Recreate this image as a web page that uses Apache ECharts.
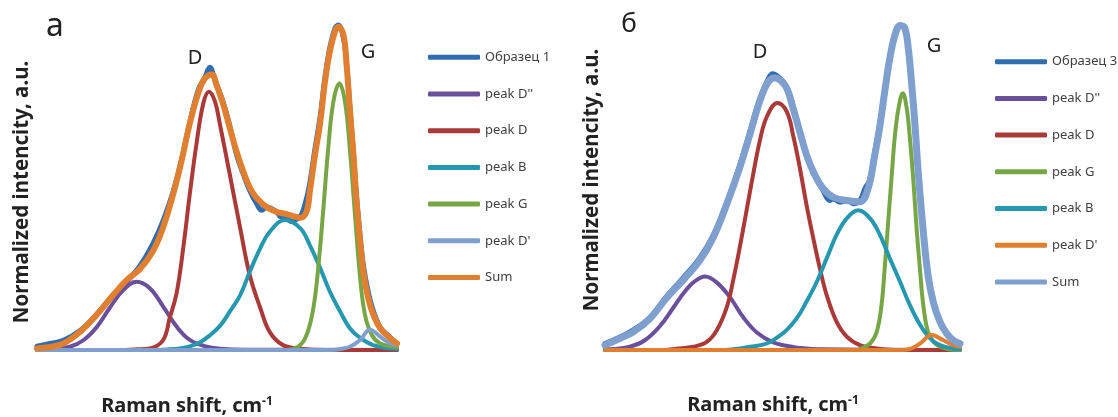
<!DOCTYPE html>
<html>
<head>
<meta charset="utf-8">
<script src="https://cdn.jsdelivr.net/npm/echarts@6/dist/echarts.min.js"></script>
<style>
  html, body { margin: 0; padding: 0; background: #fff; }
  #chart { width: 1118px; height: 417px; }
</style>
</head>
<body>
<div id="chart"></div>
<script>
// ---- данные: Raman shift (cm-1) / нормированная интенсивность ----
// панель а
const sampleA = [[900,0.012],[932,0.02],[966,0.03],[1008,0.06],[1049,0.11],[1091,0.17],[1124,0.21],[1158,0.26],[1191,0.33],[1216,0.4],[1241,0.49],[1262,0.59],[1282,0.7],[1303,0.8],[1320,0.84],[1332,0.87],[1345,0.83],[1366,0.76],[1382,0.69],[1399,0.6],[1416,0.54],[1432,0.49],[1449,0.45],[1462,0.43],[1474,0.44],[1499,0.425],[1510,0.41],[1524,0.41],[1535,0.395],[1545,0.4],[1558,0.41],[1568,0.44],[1580,0.5],[1595,0.62],[1608,0.72],[1620,0.84],[1632,0.93],[1645,0.99],[1653,1.0],[1666,0.96],[1674,0.88],[1682,0.75],[1691,0.61],[1699,0.47],[1708,0.35],[1716,0.26],[1728,0.18],[1741,0.12],[1758,0.07],[1782,0.04],[1800,0.02]];
const peakD2A = [[900,0],[932,0.002],[982,0.01],[1016,0.03],[1049,0.07],[1082,0.13],[1116,0.185],[1149,0.21],[1182,0.19],[1216,0.133],[1249,0.072],[1282,0.031],[1324,0.01],[1358,0.004],[1420,0.001],[1800,0]];
const peakDA = [[900,0],[1100,0],[1150,0.002],[1182,0.005],[1215,0.03],[1232,0.1],[1249,0.175],[1266,0.318],[1282,0.48],[1299,0.637],[1316,0.76],[1330,0.795],[1345,0.764],[1358,0.69],[1382,0.54],[1408,0.375],[1432,0.23],[1458,0.13],[1482,0.055],[1515,0.015],[1558,0.004],[1620,0],[1800,0]];
const peakBA = [[900,0],[1180,0],[1230,0.002],[1258,0.005],[1282,0.011],[1308,0.024],[1332,0.045],[1358,0.075],[1382,0.118],[1408,0.169],[1432,0.241],[1458,0.313],[1482,0.364],[1520,0.4],[1558,0.375],[1582,0.323],[1608,0.252],[1632,0.18],[1658,0.118],[1682,0.067],[1708,0.037],[1740,0.015],[1782,0.005],[1800,0.003]];
const peakGA = [[900,0],[1520,0],[1553,0.01],[1574,0.046],[1591,0.13],[1603,0.252],[1616,0.436],[1628,0.62],[1641,0.764],[1656,0.82],[1670,0.764],[1682,0.62],[1695,0.415],[1708,0.22],[1720,0.108],[1737,0.046],[1758,0.02],[1790,0.01],[1800,0.008]];
const peakD1A = [[900,0],[1640,0],[1658,0.003],[1682,0.01],[1708,0.031],[1732,0.062],[1758,0.041],[1782,0.02],[1800,0.015]];
const sumA = [[900,0.005],[932,0.009],[966,0.02],[1008,0.056],[1049,0.108],[1091,0.17],[1124,0.215],[1158,0.25],[1191,0.307],[1216,0.38],[1241,0.482],[1262,0.585],[1282,0.697],[1303,0.79],[1320,0.836],[1337,0.848],[1349,0.815],[1366,0.754],[1382,0.683],[1399,0.61],[1416,0.548],[1432,0.5],[1449,0.468],[1474,0.44],[1499,0.425],[1524,0.418],[1545,0.41],[1558,0.407],[1574,0.426],[1582,0.487],[1595,0.6],[1608,0.7],[1620,0.826],[1632,0.918],[1645,0.98],[1653,0.995],[1666,0.97],[1674,0.877],[1682,0.745],[1691,0.6],[1699,0.456],[1708,0.333],[1716,0.24],[1728,0.16],[1741,0.108],[1758,0.067],[1782,0.037],[1800,0.02]];

// панель б
const sampleB = [[900,0.02],[938,0.04],[972,0.062],[1014,0.1],[1056,0.165],[1098,0.222],[1141,0.285],[1175,0.355],[1209,0.455],[1242,0.57],[1268,0.675],[1293,0.775],[1314,0.835],[1325,0.85],[1340,0.84],[1361,0.81],[1377,0.75],[1394,0.675],[1411,0.6],[1428,0.545],[1453,0.49],[1470,0.46],[1479,0.465],[1495,0.455],[1513,0.46],[1530,0.45],[1546,0.46],[1560,0.5],[1570,0.52],[1584,0.61],[1597,0.7],[1609,0.8],[1622,0.9],[1635,0.975],[1648,1.0],[1660,0.995],[1669,0.93],[1677,0.83],[1686,0.7],[1694,0.56],[1707,0.37],[1719,0.235],[1732,0.15],[1749,0.09],[1766,0.05],[1783,0.03],[1800,0.02]];
const peakD2B = [[900,0.002],[925,0.003],[963,0.01],[1001,0.03],[1039,0.073],[1077,0.137],[1098,0.173],[1124,0.208],[1154,0.226],[1183,0.208],[1217,0.162],[1251,0.1],[1285,0.054],[1327,0.023],[1369,0.011],[1394,0.006],[1450,0.002],[1800,0]];
const peakDB = [[900,0],[1050,0],[1082,0.004],[1124,0.01],[1158,0.025],[1183,0.06],[1209,0.133],[1225,0.215],[1242,0.318],[1259,0.43],[1276,0.543],[1293,0.646],[1310,0.717],[1337,0.76],[1361,0.733],[1377,0.66],[1394,0.56],[1411,0.446],[1428,0.344],[1445,0.25],[1462,0.169],[1487,0.087],[1513,0.041],[1546,0.015],[1589,0.005],[1650,0],[1800,0]];
const peakGB = [[900,0],[1540,0],[1546,0.003],[1572,0.02],[1589,0.056],[1601,0.138],[1609,0.25],[1618,0.395],[1627,0.538],[1635,0.66],[1644,0.743],[1655,0.79],[1665,0.743],[1673,0.651],[1682,0.518],[1690,0.374],[1699,0.241],[1707,0.138],[1719,0.056],[1737,0.02],[1766,0.004],[1800,0]];
const peakBB = [[900,0],[1200,0],[1242,0.005],[1268,0.01],[1310,0.02],[1344,0.045],[1361,0.062],[1386,0.097],[1411,0.149],[1437,0.21],[1462,0.282],[1487,0.354],[1513,0.405],[1542,0.43],[1572,0.405],[1597,0.354],[1622,0.282],[1648,0.21],[1673,0.138],[1699,0.077],[1724,0.036],[1749,0.015],[1783,0.004],[1800,0.002]];
const peakD1B = [[900,0],[1650,0],[1673,0.003],[1699,0.02],[1728,0.046],[1758,0.03],[1783,0.015],[1800,0.01]];
const sumB = [[900,0.015],[938,0.036],[972,0.056],[1014,0.097],[1056,0.16],[1098,0.215],[1141,0.277],[1175,0.348],[1209,0.45],[1242,0.563],[1268,0.666],[1293,0.768],[1314,0.825],[1331,0.838],[1344,0.83],[1361,0.805],[1377,0.743],[1394,0.671],[1411,0.6],[1428,0.549],[1453,0.497],[1479,0.47],[1513,0.46],[1546,0.456],[1567,0.497],[1584,0.6],[1597,0.69],[1609,0.794],[1622,0.897],[1635,0.968],[1648,0.998],[1660,0.99],[1669,0.927],[1677,0.825],[1686,0.69],[1694,0.549],[1707,0.364],[1719,0.23],[1732,0.149],[1749,0.087],[1766,0.051],[1783,0.03],[1800,0.02]];

const namesA = ["Образец 1", "peak D''", "peak D", "peak B", "peak G", "peak D'", "Sum"];
const namesB = ["Образец 3", "peak D''", "peak D", "peak G", "peak B", "peak D'", "Sum"];

// цвета
const C = {
  sample: "#2f6db0",
  d2: "#6a4f9c",
  d: "#aa3a38",
  b: "#2597ae",
  g: "#77a646",
  lightBlue: "#7fa0cf",
  orange: "#e07f30",
};

const FONT = '"Noto Sans", sans-serif';
const SUFFIX = " "; // панель б: отдельные имена для легенды

function line(name, data, color, width, idx) {
  return {
    name: name,
    type: "line",
    xAxisIndex: idx,
    yAxisIndex: idx,
    data: data,
    smooth: 0.4,
    showSymbol: false,
    clip: false,
    color: color,
    lineStyle: { color: color, width: width, cap: "round", join: "round" },
  };
}

function axisX(idx) {
  return {
    gridIndex: idx, type: "value", min: 900, max: 1800,
    axisLine: { show: false }, axisTick: { show: false },
    axisLabel: { show: false }, splitLine: { show: false },
  };
}
function axisY(idx) {
  return {
    gridIndex: idx, type: "value", min: 0, max: 1,
    axisLine: { show: false }, axisTick: { show: false },
    axisLabel: { show: false }, splitLine: { show: false },
  };
}

function legend(names, left, top) {
  return {
    orient: "vertical",
    left: left,
    top: top,
    padding: 0,
    data: names,
    icon: "roundRect",
    itemWidth: 52,
    itemHeight: 5,
    itemGap: 20.7,
    selectedMode: false,
    formatter: (n) => n.trim(),
    textStyle: { fontFamily: FONT, fontSize: 13, color: "#404040", lineHeight: 16 },
  };
}

function txt(x, y, text, size, weight, rot) {
  return {
    type: "text",
    x: x,
    y: y,
    rotation: rot || 0,
    style: {
      text: text,
      fontFamily: FONT,
      fontSize: size,
      fontWeight: weight,
      fill: "#222",
      align: "center",
      verticalAlign: "middle",
      rich: {
        sup: { fontFamily: FONT, fontSize: 12, fontWeight: "bold", fill: "#222", verticalAlign: "top" },
      },
    },
  };
}

const namesBKeys = namesB.map((n) => n + SUFFIX);

const option = {
  animation: false,
  backgroundColor: "#fff",
  grid: [
    { left: 37, top: 25, width: 360, height: 325 },
    { left: 605, top: 25, width: 355, height: 325 },
  ],
  xAxis: [axisX(0), axisX(1)],
  yAxis: [axisY(0), axisY(1)],
  legend: [legend(namesA, 428, 49.3), legend(namesBKeys, 995, 53.7)],
  graphic: [
    txt(55, 27, "а", 32, "normal"),
    txt(629, 25, "б", 26, "normal"),
    txt(195, 58, "D", 20, "normal"),
    txt(368, 52, "G", 20, "normal"),
    txt(760, 52, "D", 20, "normal"),
    txt(934, 46, "G", 20, "normal"),
    txt(22, 192, "Normalized intencity, a.u.", 20.5, "bold", Math.PI / 2),
    txt(592, 180, "Normalized intencity, a.u.", 20.5, "bold", Math.PI / 2),
    txt(187, 406, "Raman shift, cm{sup|-1}", 20, "bold"),
    txt(773, 405, "Raman shift, cm{sup|-1}", 20, "bold"),
  ],
  series: [
    // панель а
    line(namesA[0], sampleA, C.sample, 5, 0),
    line(namesA[1], peakD2A, C.d2, 4, 0),
    line(namesA[2], peakDA, C.d, 4, 0),
    line(namesA[3], peakBA, C.b, 4, 0),
    line(namesA[4], peakGA, C.g, 4, 0),
    line(namesA[5], peakD1A, C.lightBlue, 4, 0),
    line(namesA[6], sumA, C.orange, 6, 0),
    // панель б
    line(namesBKeys[0], sampleB, C.sample, 5, 1),
    line(namesBKeys[1], peakD2B, C.d2, 4, 1),
    line(namesBKeys[2], peakDB, C.d, 4, 1),
    line(namesBKeys[3], peakGB, C.g, 4, 1),
    line(namesBKeys[4], peakBB, C.b, 4, 1),
    line(namesBKeys[5], peakD1B, C.orange, 4, 1),
    line(namesBKeys[6], sumB, C.lightBlue, 7, 1),
  ],
};

const chart = echarts.init(document.getElementById("chart"));
chart.setOption(option);
</script>
</body>
</html>
